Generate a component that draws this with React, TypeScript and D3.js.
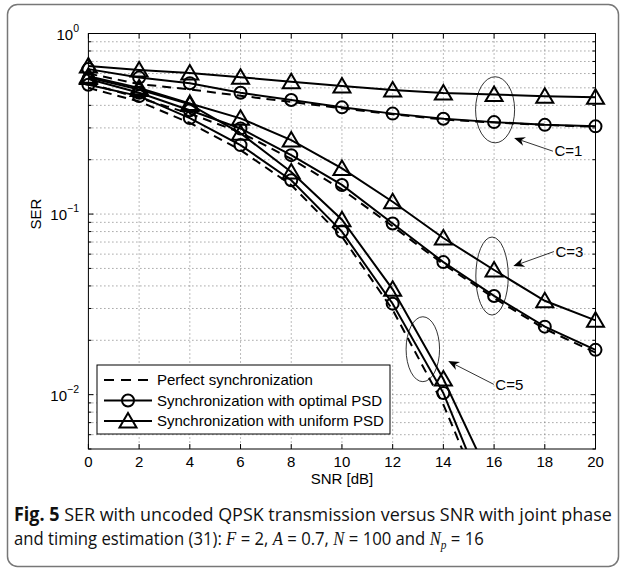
import React, { useLayoutEffect, useRef, useState } from 'react';
import * as d3 from 'd3';

// SNR grid (dB)
const snr = [0, 2, 4, 6, 8, 10, 12, 14, 16, 18, 20];

// C = 1
const perfectC1 = [0.6, 0.525, 0.49, 0.452, 0.418, 0.385, 0.357, 0.334, 0.321, 0.312, 0.304];
const optimalC1 = [0.635, 0.57, 0.53, 0.47, 0.428, 0.39, 0.36, 0.337, 0.323, 0.312, 0.306];
const uniformC1 = [0.66, 0.628, 0.604, 0.573, 0.54, 0.512, 0.486, 0.468, 0.46, 0.449, 0.444];

// C = 3
const perfectC3 = [0.53, 0.44, 0.36, 0.283, 0.202, 0.137, 0.0855, 0.0528, 0.0343, 0.0231, 0.0171];
const optimalC3 = [0.56, 0.47, 0.376, 0.298, 0.212, 0.145, 0.0887, 0.0542, 0.0352, 0.0238, 0.0177];
const uniformC3 = [0.58, 0.5, 0.41, 0.339, 0.257, 0.179, 0.117, 0.0737, 0.049, 0.0331, 0.0258];

// C = 5 (runs off the bottom of the axes after 14 dB)
const perfectC5 = [0.5, 0.42, 0.32, 0.226, 0.145, 0.075, 0.0295, 0.0088, 0.0019];
const optimalC5 = [0.52, 0.45, 0.34, 0.241, 0.154, 0.08, 0.0319, 0.0102, 0.0021];
const uniformC5 = [0.57, 0.49, 0.405, 0.28, 0.171, 0.093, 0.0383, 0.0122, 0.0031];

const xTicks = [0, 2, 4, 6, 8, 10, 12, 14, 16, 18, 20];
const yMajor = [1, 0.1, 0.01];
const yExponents = ['0', '\u22121', '\u22122'];

const legendLabels = [
  'Perfect synchronization',
  'Synchronization with optimal PSD',
  'Synchronization with uniform PSD'
];

// group annotations in data units: ellipse centre / half width (dB) / top & bottom SER, arrow tip & tail
const groupLabels = ['C=1', 'C=3', 'C=5'];
const ellipseX = [16.04, 15.92, 13.19];
const ellipseHalfWidth = [0.77, 0.64, 0.66];
const ellipseTop = [0.576, 0.0746, 0.027];
const ellipseBottom = [0.248, 0.0276, 0.0118];
const arrowTip = [[16.79, 0.264], [16.76, 0.0515], [14.19, 0.01534]];
const arrowTail = [[18.32, 0.223], [18.36, 0.062], [15.99, 0.0114]];

const W = 625;
const H = 572;
const FONT = '"Liberation Sans", Arial, Helvetica, sans-serif';
const CAPTION_FONT = '"Open Sans", "Noto Sans", sans-serif';
const MATH_FONT = '"Liberation Serif", "DejaVu Serif", serif';
const DASH = '9 6';

const x = d3.scaleLinear().domain([0, 20]).range([88.4, 595.5]);
const y = d3.scaleLog().domain([0.005, 1]).range([449, 33.5]);

const series = [
  { values: perfectC1, kind: 'perfect' },
  { values: optimalC1, kind: 'optimal' },
  { values: uniformC1, kind: 'uniform' },
  { values: perfectC3, kind: 'perfect' },
  { values: optimalC3, kind: 'optimal' },
  { values: uniformC3, kind: 'uniform' },
  { values: perfectC5, kind: 'perfect' },
  { values: optimalC5, kind: 'optimal' },
  { values: uniformC5, kind: 'uniform' }
];

const line = d3
  .line<number>()
  .x((_, i) => x(snr[i]))
  .y((v) => y(v));

function Marker({ kind, cx, cy }: { kind: string; cx: number; cy: number }) {
  if (kind === 'optimal') {
    return <circle cx={cx} cy={cy} r={6} fill="none" stroke="#000" strokeWidth={2} />;
  }
  if (kind === 'uniform') {
    return (
      <path
        d={`M${cx},${cy - 8}L${cx + 8.5},${cy + 6.5}L${cx - 8.5},${cy + 6.5}Z`}
        fill="none"
        stroke="#000"
        strokeWidth={2}
      />
    );
  }
  return null;
}

function arrowHead(tip: number[], tail: number[]) {
  const dx = tail[0] - tip[0];
  const dy = tail[1] - tip[1];
  const d = Math.hypot(dx, dy);
  const ux = dx / d;
  const uy = dy / d;
  const px = -uy;
  const py = ux;
  const len = 11;
  const half = 4.5;
  const bx = tip[0] + ux * len;
  const by = tip[1] + uy * len;
  const nx = tip[0] + ux * (len - 3.5);
  const ny = tip[1] + uy * (len - 3.5);
  return {
    head: `M${tip[0]},${tip[1]}L${bx + px * half},${by + py * half}L${nx},${ny}L${bx - px * half},${by - py * half}Z`,
    notch: [nx, ny]
  };
}

export default function App() {
  const [x0, x1] = x.range();
  const [yb, yt] = y.range();
  const minorTicks = y.ticks();

  // caption lines are squeezed to the reference widths
  const cap1 = useRef<SVGTextElement>(null);
  const cap2 = useRef<SVGTextElement>(null);
  const [capScale, setCapScale] = useState([1, 1]);
  useLayoutEffect(() => {
    const w1 = cap1.current?.getBBox().width || 598;
    const w2 = cap2.current?.getBBox().width || 470;
    setCapScale([598 / w1, 470 / w2]);
  }, []);

  return (
    <svg
      width={W}
      height={H}
      style={{ position: 'absolute', left: 0, top: 0, background: '#fff' }}
      fontFamily={FONT}
    >
      <defs>
        <clipPath id="plot-clip">
          <rect x={x0} y={yt} width={x1 - x0} height={yb - yt} />
        </clipPath>
      </defs>
      <rect x={0} y={0} width={W} height={H} fill="#fff" />
      <rect x={7.5} y={4.5} width={611} height={562} rx={10} fill="none" stroke="#777" strokeWidth={1.5} />

      {/* grid */}
      <g stroke="#555" strokeWidth={0.8} strokeDasharray="1 3">
        {xTicks.slice(1, -1).map((t) => (
          <line key={`gx${t}`} x1={x(t)} x2={x(t)} y1={yt} y2={yb} />
        ))}
        {minorTicks
          .filter((t) => t < 1 && t > 0.005)
          .map((t) => (
            <line key={`gy${t}`} x1={x0} x2={x1} y1={y(t)} y2={y(t)} />
          ))}
      </g>

      {/* ticks */}
      <g stroke="#000" strokeWidth={1}>
        {xTicks.map((t) => (
          <g key={`tx${t}`}>
            <line x1={x(t)} x2={x(t)} y1={yb} y2={yb - 5} />
            <line x1={x(t)} x2={x(t)} y1={yt} y2={yt + 5} />
          </g>
        ))}
        {minorTicks.map((t) => {
          const len = yMajor.includes(t) ? 5 : 3;
          return (
            <g key={`ty${t}`}>
              <line x1={x0} x2={x0 + len} y1={y(t)} y2={y(t)} />
              <line x1={x1} x2={x1 - len} y1={y(t)} y2={y(t)} />
            </g>
          );
        })}
      </g>

      {/* curves */}
      <g clipPath="url(#plot-clip)" fill="none" stroke="#000" strokeWidth={2}>
        {series.map((s, i) => (
          <path key={`l${i}`} d={line(s.values) || ''} strokeDasharray={s.kind === 'perfect' ? DASH : undefined} />
        ))}
      </g>
      <g>
        {series.map((s, i) =>
          s.values.map((v, j) =>
            v >= 0.005 ? <Marker key={`m${i}-${j}`} kind={s.kind} cx={x(snr[j])} cy={y(v)} /> : null
          )
        )}
      </g>

      {/* axes box */}
      <rect x={x0} y={yt} width={x1 - x0} height={yb - yt} fill="none" stroke="#000" strokeWidth={1} />

      {/* annotations */}
      <g fill="none" stroke="#000">
        {groupLabels.map((label, i) => {
          const cx = x(ellipseX[i]);
          const top = y(ellipseTop[i]);
          const bottom = y(ellipseBottom[i]);
          const rx = x(ellipseX[i] + ellipseHalfWidth[i]) - cx;
          const tip = [x(arrowTip[i][0]), y(arrowTip[i][1])];
          const tail = [x(arrowTail[i][0]), y(arrowTail[i][1])];
          const a = arrowHead(tip, tail);
          return (
            <g key={label}>
              <ellipse cx={cx} cy={(top + bottom) / 2} rx={rx} ry={(bottom - top) / 2} strokeWidth={0.8} />
              <line x1={tail[0]} y1={tail[1]} x2={a.notch[0]} y2={a.notch[1]} strokeWidth={0.8} />
              <path d={a.head} fill="#000" stroke="none" />
              <text x={tail[0] + 1.5} y={tail[1]} dy="0.35em" fontSize={15} fill="#000" stroke="none">
                {label}
              </text>
            </g>
          );
        })}
      </g>

      {/* legend */}
      <g>
        <rect x={97} y={365} width={293} height={69} fill="#fff" stroke="#000" strokeWidth={1} />
        {legendLabels.map((label, i) => {
          const ly = 380 + i * 20.5;
          const kind = ['perfect', 'optimal', 'uniform'][i];
          return (
            <g key={label}>
              <line
                x1={104}
                x2={152}
                y1={ly}
                y2={ly}
                stroke="#000"
                strokeWidth={2}
                strokeDasharray={kind === 'perfect' ? '10 7' : undefined}
              />
              <Marker kind={kind} cx={128} cy={ly} />
              <text x={157} y={ly} dy="0.35em" fontSize={15}>
                {label}
              </text>
            </g>
          );
        })}
      </g>

      {/* tick labels */}
      <g fontSize={15} textAnchor="middle">
        {xTicks.map((t) => (
          <text key={`xl${t}`} x={x(t)} y={467}>
            {t}
          </text>
        ))}
      </g>
      <g fontSize={15} textAnchor="end">
        {yMajor.map((t, i) => (
          <text key={`yl${t}`} x={79} y={y(t) + 6}>
            10
            <tspan fontSize={10.5} dy={-8}>
              {yExponents[i]}
            </tspan>
          </text>
        ))}
      </g>
      <text x={(x0 + x1) / 2} y={484} fontSize={15} textAnchor="middle">
        SNR [dB]
      </text>
      <text transform={`translate(41,${y(0.1)}) rotate(-90)`} fontSize={15} textAnchor="middle">
        SER
      </text>

      {/* caption */}
      <g fontFamily={CAPTION_FONT} fontSize={19} fill="#111">
        <text ref={cap1} transform={`translate(14,521) scale(${capScale[0]},1)`}>
          <tspan fontWeight="bold">Fig. 5</tspan> SER with uncoded QPSK transmission versus SNR with joint phase
        </text>
        <text ref={cap2} transform={`translate(14,545) scale(${capScale[1]},1)`}>
          and timing estimation (31):{' '}
          <tspan fontFamily={MATH_FONT} fontStyle="italic">F</tspan> = 2,{' '}
          <tspan fontFamily={MATH_FONT} fontStyle="italic">A</tspan> = 0.7,{' '}
          <tspan fontFamily={MATH_FONT} fontStyle="italic">N</tspan> = 100 and{' '}
          <tspan fontFamily={MATH_FONT} fontStyle="italic">N</tspan>
          <tspan fontFamily={MATH_FONT} fontStyle="italic" fontSize={13} dy={4}>
            p
          </tspan>
          <tspan dy={-4}> = 16</tspan>
        </text>
      </g>
    </svg>
  );
}
